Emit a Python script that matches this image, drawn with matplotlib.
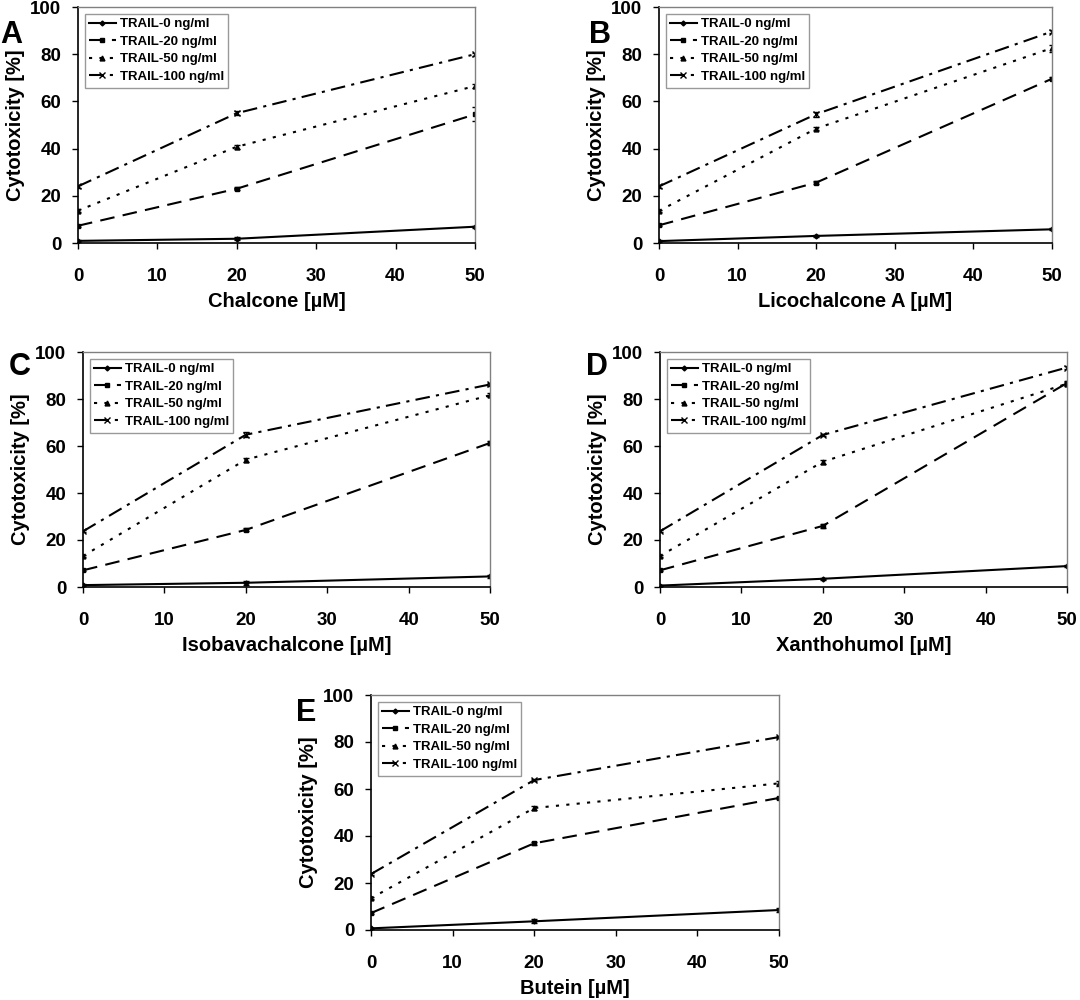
#Cytotoxicity of chalcones combined with TRAIL - five panel figure (A-E)
import matplotlib
matplotlib.use('Agg')
import matplotlib.pyplot as plt
import numpy as np

plt.rcParams['font.family'] = ['Liberation Sans', 'DejaVu Sans']
plt.rcParams['font.weight'] = 'bold'

#DATA
conc = [0, 20, 50]  #chalcone concentration [uM]
trail_labels = ['TRAIL-0 ng/ml', 'TRAIL-20 ng/ml', 'TRAIL-50 ng/ml', 'TRAIL-100 ng/ml']
panel_letters = ['A', 'B', 'C', 'D', 'E']
compounds = ['Chalcone', 'Licochalcone A', 'Isobavachalcone', 'Xanthohumol', 'Butein']

#cytotoxicity [%] per panel, one row per TRAIL dose
chalcone = [[0.9, 1.8, 6.9], [7.3, 23.0, 54.5], [13.7, 40.8, 66.5], [24.0, 55.0, 80.0]]
licochalcone = [[0.8, 3.0, 5.8], [7.5, 25.6, 69.6], [13.6, 48.5, 82.6], [24.0, 54.6, 89.6]]
isobavachalcone = [[0.8, 1.8, 4.5], [7.1, 24.3, 61.3], [13.2, 54.2, 81.6], [23.7, 64.8, 86.2]]
xanthohumol = [[0.6, 3.5, 8.9], [7.1, 26.0, 86.8], [13.2, 53.3, 86.5], [23.7, 64.7, 93.4]]
butein = [[0.7, 3.7, 8.5], [7.2, 36.9, 56.2], [13.5, 51.9, 62.4], [23.8, 63.8, 82.1]]

#standard deviations (small)
chalcone_err = [[0.3, 0.6, 0.5], [0.5, 0.6, 3.0], [0.5, 0.8, 1.0], [0.5, 0.8, 0.6]]
licochalcone_err = [[0.3, 0.5, 0.5], [0.5, 0.6, 0.6], [0.5, 0.8, 1.5], [0.5, 1.0, 0.6]]
isobavachalcone_err = [[0.3, 0.8, 0.8], [0.5, 0.6, 0.8], [0.5, 0.8, 0.8], [0.5, 1.0, 0.8]]
xanthohumol_err = [[0.3, 0.5, 0.6], [0.5, 1.0, 0.8], [0.5, 0.8, 0.8], [0.5, 0.6, 0.6]]
butein_err = [[0.3, 0.8, 0.8], [0.5, 0.6, 0.6], [0.5, 0.8, 1.0], [0.5, 0.6, 0.6]]

all_data = [chalcone, licochalcone, isobavachalcone, xanthohumol, butein]
all_err = [chalcone_err, licochalcone_err, isobavachalcone_err, xanthohumol_err, butein_err]

#STYLE
linestyles = ['-', (0, (7, 4)), (0, (1.5, 3.5)), (0, (7, 3, 1.5, 3))]
markers = ['D', 's', '^', 'x']
msizes = [2.5, 3.5, 3.5, 4]

#[left, bottom, width, height] in figure fraction, letter position
axes_pos = [[0.0722, 0.757, 0.3676, 0.236],
            [0.6102, 0.757, 0.3639, 0.236],
            [0.0769, 0.413, 0.3769, 0.235],
            [0.6111, 0.413, 0.3769, 0.235],
            [0.3435, 0.070, 0.3778, 0.235]]
letter_pos = [[0.0, 0.980], [0.545, 0.980], [0.008, 0.648], [0.543, 0.648], [0.274, 0.302]]

fig = plt.figure(figsize=(10.8, 10), dpi=100)

for i in range(5):
    ax = fig.add_axes(axes_pos[i])
    for j in range(4):
        ax.errorbar(conc, all_data[i][j], yerr=all_err[i][j], fmt='none', ecolor='black',
                    capsize=2, elinewidth=0.8)
        ax.plot(conc, all_data[i][j], color='black', linestyle=linestyles[j],
                linewidth=1.5, marker=markers[j], markersize=msizes[j],
                markeredgewidth=1, label=trail_labels[j])
    ax.set_xlim(0, 50)
    ax.set_ylim(0, 100)
    ax.set_xticks(range(0, 51, 10))
    ax.set_yticks(range(0, 101, 20))
    ax.tick_params(direction='out', length=4, width=1, labelsize=13.5, pad=14)
    ax.tick_params(axis='y', pad=8)
    for s in ['top', 'right']:
        ax.spines[s].set_color('#808080')
        ax.spines[s].set_linewidth(1)
    for s in ['left', 'bottom']:
        ax.spines[s].set_linewidth(1.2)
    ax.set_xlabel(compounds[i] + ' [µM]', fontsize=14.5, fontweight='bold', labelpad=5)
    ax.set_ylabel('Cytotoxicity [%]', fontsize=14.5, fontweight='bold', labelpad=4)
    leg = ax.legend(loc='upper left', fontsize=9.5, handlelength=2.0, labelspacing=0.4,
                    borderpad=0.35, handletextpad=0.3, fancybox=False,
                    edgecolor='#808080', bbox_to_anchor=(0.0, 1.0))
    leg.get_frame().set_linewidth(1)
    for t in leg.get_texts():
        t.set_fontweight('bold')
    fig.text(letter_pos[i][0], letter_pos[i][1], panel_letters[i], fontsize=22,
             fontweight='bold', va='top', ha='left')

plt.savefig('out.png', dpi=100)
